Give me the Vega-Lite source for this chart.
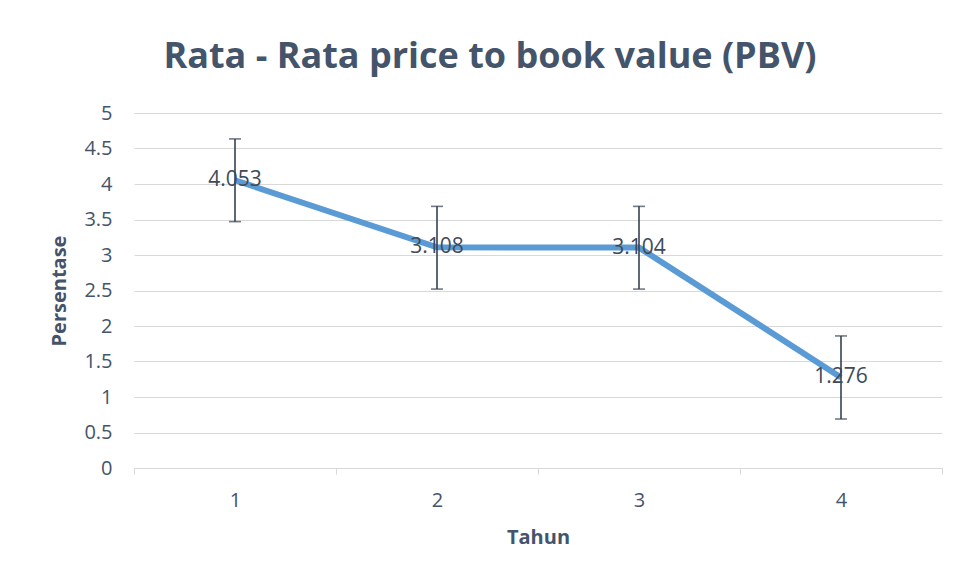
{
  "$schema": "https://vega.github.io/schema/vega-lite/v6.json",
  "width": 808,
  "height": 355,
  "autosize": {"type": "none"},
  "padding": {"left": 134, "top": 113, "right": 19, "bottom": 109},
  "background": "white",
  "config": {
    "font": "Open Sans",
    "view": {"stroke": null}
  },
  "title": {
    "text": "Rata - Rata price to book value (PBV)",
    "fontSize": 36,
    "fontWeight": "bold",
    "color": "#44546A",
    "anchor": "middle",
    "frame": "group",
    "font": "Open Sans",
    "dx": -48,
    "offset": 27
  },
  "data": {
    "values": [
      {"tahun": "1", "pbv": 4.053, "lo": 3.47, "hi": 4.635},
      {"tahun": "2", "pbv": 3.108, "lo": 2.52, "hi": 3.685},
      {"tahun": "3", "pbv": 3.104, "lo": 2.52, "hi": 3.685},
      {"tahun": "4", "pbv": 1.276, "lo": 0.69, "hi": 1.86}
    ]
  },
  "encoding": {
    "x": {
      "field": "tahun",
      "type": "ordinal",
      "scale": {"type": "band", "paddingInner": 0, "paddingOuter": 0},
      "axis": {
        "title": "Tahun",
        "titleFontSize": 20,
        "titleFontWeight": "bold",
        "titleColor": "#44546A",
        "titlePadding": 17,
        "labelAngle": 0,
        "labelFontSize": 20,
        "labelColor": "#44546A",
        "labelPadding": 16,
        "tickBand": "extent",
        "tickSize": 6,
        "tickColor": "#D9D9D9",
        "domainColor": "#D9D9D9",
        "grid": false
      }
    }
  },
  "layer": [
    {
      "mark": {"type": "line", "color": "#5B9BD5", "strokeWidth": 6},
      "encoding": {
        "y": {
          "field": "pbv",
          "type": "quantitative",
          "scale": {"domain": [0, 5], "nice": false},
          "axis": {
            "title": "Persentase",
            "titleFontSize": 20,
            "titleFontWeight": "bold",
            "titleColor": "#44546A",
            "titlePadding": 14,
            "values": [0, 0.5, 1, 1.5, 2, 2.5, 3, 3.5, 4, 4.5, 5],
            "format": ".1~f",
            "labelOverlap": false,
            "labelFontSize": 20,
            "labelColor": "#44546A",
            "labelPadding": 22,
            "ticks": false,
            "domain": false,
            "grid": true,
            "gridColor": "#D9D9D9",
            "gridWidth": 1
          }
        }
      }
    },
    {
      "mark": {"type": "rule", "color": "#364152", "strokeWidth": 1.6},
      "encoding": {
        "y": {
          "field": "lo",
          "type": "quantitative",
          "scale": {"domain": [0, 5], "nice": false},
          "axis": {
            "title": "Persentase",
            "titleFontSize": 20,
            "titleFontWeight": "bold",
            "titleColor": "#44546A",
            "titlePadding": 14,
            "values": [0, 0.5, 1, 1.5, 2, 2.5, 3, 3.5, 4, 4.5, 5],
            "format": ".1~f",
            "labelOverlap": false,
            "labelFontSize": 20,
            "labelColor": "#44546A",
            "labelPadding": 22,
            "ticks": false,
            "domain": false,
            "grid": true,
            "gridColor": "#D9D9D9",
            "gridWidth": 1
          }
        },
        "y2": {"field": "hi"}
      }
    },
    {
      "mark": {"type": "tick", "color": "#364152", "thickness": 1.6, "size": 12},
      "encoding": {
        "y": {
          "field": "lo",
          "type": "quantitative",
          "scale": {"domain": [0, 5], "nice": false},
          "axis": {
            "title": "Persentase",
            "titleFontSize": 20,
            "titleFontWeight": "bold",
            "titleColor": "#44546A",
            "titlePadding": 14,
            "values": [0, 0.5, 1, 1.5, 2, 2.5, 3, 3.5, 4, 4.5, 5],
            "format": ".1~f",
            "labelOverlap": false,
            "labelFontSize": 20,
            "labelColor": "#44546A",
            "labelPadding": 22,
            "ticks": false,
            "domain": false,
            "grid": true,
            "gridColor": "#D9D9D9",
            "gridWidth": 1
          }
        }
      }
    },
    {
      "mark": {"type": "tick", "color": "#364152", "thickness": 1.6, "size": 12},
      "encoding": {
        "y": {
          "field": "hi",
          "type": "quantitative",
          "scale": {"domain": [0, 5], "nice": false},
          "axis": {
            "title": "Persentase",
            "titleFontSize": 20,
            "titleFontWeight": "bold",
            "titleColor": "#44546A",
            "titlePadding": 14,
            "values": [0, 0.5, 1, 1.5, 2, 2.5, 3, 3.5, 4, 4.5, 5],
            "format": ".1~f",
            "labelOverlap": false,
            "labelFontSize": 20,
            "labelColor": "#44546A",
            "labelPadding": 22,
            "ticks": false,
            "domain": false,
            "grid": true,
            "gridColor": "#D9D9D9",
            "gridWidth": 1
          }
        }
      }
    },
    {
      "mark": {"type": "text", "fontSize": 21, "color": "#404A59", "align": "center", "baseline": "middle"},
      "encoding": {
        "y": {
          "field": "pbv",
          "type": "quantitative",
          "scale": {"domain": [0, 5], "nice": false},
          "axis": {
            "title": "Persentase",
            "titleFontSize": 20,
            "titleFontWeight": "bold",
            "titleColor": "#44546A",
            "titlePadding": 14,
            "values": [0, 0.5, 1, 1.5, 2, 2.5, 3, 3.5, 4, 4.5, 5],
            "format": ".1~f",
            "labelOverlap": false,
            "labelFontSize": 20,
            "labelColor": "#44546A",
            "labelPadding": 22,
            "ticks": false,
            "domain": false,
            "grid": true,
            "gridColor": "#D9D9D9",
            "gridWidth": 1
          }
        },
        "text": {"field": "pbv", "type": "quantitative", "format": ".3f"}
      }
    }
  ]
}
